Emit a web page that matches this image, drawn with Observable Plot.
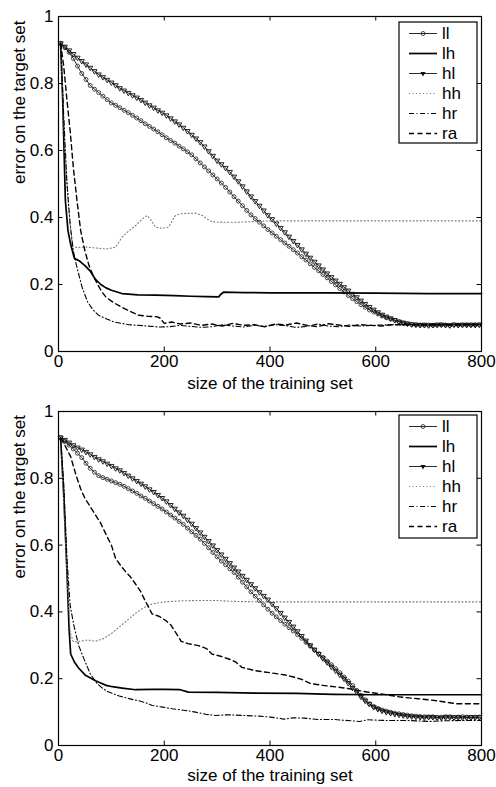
<!DOCTYPE html>
<html><head><meta charset="utf-8">
<script src="https://cdn.jsdelivr.net/npm/d3@7"></script>
<script src="https://cdn.jsdelivr.net/npm/@observablehq/plot@0.6"></script>
<style>
body{margin:0;background:#fff;}
#wrap{position:relative;width:496px;height:787px;font-family:"Liberation Sans",Arial,sans-serif;}
#wrap svg{display:block}
.legend{position:absolute}
</style></head><body><div id="wrap"></div>
<script>
const xTicks = [0, 200, 400, 600, 800];
const yTicks = [0, 0.2, 0.4, 0.6, 0.8, 1];
const seriesNames = ["ll", "lh", "hl", "hh", "hr", "ra"];
const xAxisTitle = "size of the training set";
const yAxisTitle = "error on the target set";
// sample sizes of the marker series (ll, hl)
const markerX = d3.range(4, 800, 8);

// ---------- top panel ----------
const llTop = [0.920,0.907,0.893,0.875,0.852,0.830,0.812,0.794,0.783,0.773,0.762,0.752,0.742,0.735,0.728,0.720,0.713,0.705,0.697,0.689,
0.680,0.672,0.664,0.656,0.647,0.638,0.630,0.622,0.613,0.605,0.596,0.587,0.575,0.563,0.551,0.539,0.527,0.515,0.503,0.490,
0.476,0.462,0.449,0.435,0.421,0.408,0.397,0.386,0.375,0.364,0.354,0.344,0.334,0.324,0.314,0.304,0.294,0.283,0.273,0.262,
0.251,0.241,0.230,0.220,0.209,0.199,0.188,0.178,0.167,0.158,0.149,0.140,0.132,0.124,0.118,0.112,0.106,0.101,0.097,0.093,
0.089,0.085,0.083,0.081,0.080,0.079,0.078,0.079,0.078,0.079,0.080,0.079,0.078,0.080,0.079,0.079,0.080,0.079,0.080,0.080];
const hlTop = [0.920,0.910,0.899,0.888,0.877,0.867,0.857,0.847,0.837,0.827,0.819,0.811,0.803,0.795,0.786,0.779,0.772,0.765,0.758,0.751,
0.743,0.735,0.728,0.720,0.713,0.705,0.696,0.687,0.678,0.668,0.658,0.647,0.636,0.625,0.612,0.598,0.584,0.570,0.559,0.548,
0.536,0.522,0.508,0.493,0.478,0.463,0.449,0.435,0.421,0.407,0.395,0.382,0.369,0.356,0.343,0.330,0.318,0.305,0.292,0.280,
0.268,0.257,0.245,0.233,0.222,0.212,0.202,0.192,0.182,0.172,0.162,0.152,0.142,0.133,0.125,0.117,0.110,0.104,0.099,0.094,
0.089,0.086,0.083,0.081,0.080,0.079,0.080,0.078,0.079,0.080,0.080,0.079,0.078,0.080,0.079,0.080,0.079,0.080,0.079,0.080];
const lhTopX = [4,8,13,18,23,30,40,51,60,70,80,90,100,120,150,183,220,250,280,303,307,312,350,400,500,600,700,800];
const lhTopY = [0.92,0.75,0.45,0.36,0.32,0.278,0.27,0.255,0.24,0.215,0.2,0.19,0.183,0.173,0.169,0.168,0.167,0.165,0.164,0.163,0.171,0.177,0.176,0.175,0.175,0.174,0.173,0.173];
const hhTopX = [4,12,20,26,35,50,70,90,108,120,133,146,158,168,176,183,195,208,215,221,235,259,272,281,290,310,340,372,400,500,600,700,800];
const hhTopY = [0.92,0.6,0.42,0.315,0.31,0.312,0.309,0.306,0.311,0.341,0.36,0.376,0.395,0.406,0.39,0.371,0.368,0.371,0.39,0.406,0.412,0.413,0.406,0.396,0.387,0.386,0.386,0.388,0.39,0.39,0.39,0.39,0.39];
const hrTopX = [4,10,16,22,28,35,45,55,65,76,90,105,133,160,190,210,230,250,270,290,310,330,350,370,390,410,430,450,470,490,510,530,550,570,590,610,630,660,700,750,800];
const hrTopY = [0.92,0.70,0.50,0.38,0.30,0.25,0.19,0.148,0.125,0.108,0.098,0.088,0.080,0.077,0.073,0.074,0.078,0.075,0.072,0.074,0.080,0.076,0.073,0.078,0.075,0.080,0.077,0.072,0.075,0.082,0.076,0.074,0.079,0.076,0.078,0.079,0.080,0.080,0.079,0.080,0.080];
const raTopX = [4,10,16,22,28,35,42,50,58,66,74,82,90,105,120,135,152,170,185,192,200,214,230,250,270,290,310,330,350,370,390,410,430,450,470,490,510,530,550,570,590,610,630,660,700,800];
const raTopY = [0.92,0.85,0.75,0.66,0.55,0.45,0.36,0.30,0.255,0.225,0.20,0.178,0.162,0.145,0.132,0.12,0.108,0.105,0.104,0.100,0.084,0.088,0.082,0.085,0.078,0.082,0.076,0.084,0.078,0.080,0.074,0.082,0.079,0.085,0.078,0.074,0.083,0.079,0.075,0.080,0.078,0.076,0.080,0.080,0.080,0.080];

// ---------- bottom panel ----------
const llBot = [0.922,0.910,0.899,0.888,0.875,0.862,0.845,0.830,0.818,0.808,0.802,0.797,0.792,0.787,0.782,0.776,0.769,0.762,0.755,0.747,
0.740,0.732,0.724,0.716,0.708,0.699,0.690,0.681,0.671,0.662,0.651,0.640,0.629,0.618,0.605,0.592,0.578,0.565,0.552,0.541,
0.529,0.518,0.504,0.489,0.475,0.460,0.447,0.434,0.421,0.408,0.396,0.385,0.374,0.363,0.353,0.343,0.332,0.321,0.309,0.298,
0.286,0.275,0.264,0.253,0.242,0.230,0.218,0.205,0.193,0.180,0.165,0.150,0.137,0.125,0.117,0.111,0.106,0.103,0.100,0.097,
0.095,0.093,0.091,0.089,0.088,0.087,0.086,0.085,0.086,0.084,0.085,0.086,0.085,0.084,0.085,0.086,0.085,0.084,0.085,0.085];
const hlBot = [0.922,0.915,0.907,0.899,0.892,0.886,0.879,0.872,0.864,0.857,0.851,0.844,0.837,0.830,0.824,0.816,0.808,0.800,0.792,0.784,
0.776,0.767,0.759,0.750,0.741,0.731,0.720,0.709,0.698,0.688,0.676,0.664,0.651,0.638,0.625,0.612,0.599,0.585,0.572,0.559,
0.546,0.533,0.521,0.508,0.496,0.483,0.471,0.459,0.448,0.437,0.424,0.411,0.397,0.383,0.370,0.356,0.342,0.328,0.314,0.300,
0.287,0.274,0.261,0.249,0.236,0.224,0.212,0.200,0.187,0.173,0.160,0.146,0.134,0.124,0.115,0.109,0.104,0.100,0.097,0.094,
0.092,0.090,0.088,0.087,0.086,0.085,0.084,0.086,0.085,0.084,0.083,0.085,0.086,0.084,0.085,0.083,0.084,0.085,0.084,0.085];
const lhBotX = [4,10,16,20,23,30,38,51,70,83,90,102,120,146,177,200,230,246,300,372,450,520,600,700,800];
const lhBotY = [0.92,0.75,0.52,0.35,0.274,0.25,0.232,0.21,0.194,0.185,0.18,0.176,0.172,0.167,0.168,0.168,0.167,0.16,0.159,0.157,0.156,0.153,0.152,0.152,0.152];
const hhBotX = [4,10,16,22,28,40,55,70,85,100,115,130,145,160,177,200,230,260,300,340,400,500,600,700,800];
const hhBotY = [0.92,0.72,0.52,0.34,0.31,0.312,0.316,0.312,0.32,0.335,0.355,0.375,0.395,0.412,0.424,0.43,0.433,0.434,0.434,0.431,0.43,0.43,0.43,0.43,0.43];
const hrBotX = [4,10,16,22,29,38,48,60,73,83,92,102,115,127,142,152,165,177,197,215,240,259,280,297,320,347,380,401,426,445,464,490,521,552,570,584,620,660,700,730,770,800];
const hrBotY = [0.92,0.78,0.56,0.42,0.36,0.30,0.26,0.215,0.185,0.172,0.162,0.156,0.148,0.143,0.137,0.134,0.128,0.12,0.115,0.11,0.105,0.10,0.093,0.09,0.092,0.09,0.088,0.085,0.079,0.083,0.082,0.078,0.078,0.074,0.072,0.077,0.075,0.075,0.072,0.074,0.075,0.075];
const raBotX = [4,10,23,33,42,50,60,70,79,92,100,108,117,127,136,145,155,165,177,190,203,212,221,232,245,265,280,290,305,322,335,347,372,400,426,445,460,476,500,527,550,584,620,647,680,716,740,753,800];
const raBotY = [0.92,0.905,0.865,0.81,0.768,0.74,0.715,0.69,0.668,0.625,0.60,0.56,0.54,0.52,0.505,0.485,0.462,0.43,0.394,0.387,0.374,0.362,0.34,0.312,0.305,0.299,0.29,0.274,0.268,0.259,0.25,0.234,0.224,0.218,0.212,0.205,0.198,0.186,0.18,0.175,0.17,0.16,0.152,0.145,0.14,0.134,0.128,0.125,0.125];

const rows = (xs, ys) => xs.map((x, i) => ({x, y: ys[i]}));

// downward-pointing triangle marker
const triDown = {
  draw(ctx, size) {
    const a = Math.sqrt(size * 4 / Math.sqrt(3)) * 0.8;
    const h = a * Math.sqrt(3) / 2;
    ctx.moveTo(0, h * 2 / 3);
    ctx.lineTo(a / 2, -h / 3);
    ctx.lineTo(-a / 2, -h / 3);
    ctx.closePath();
  }
};

const styles = {
  ll: {stroke: "#111", strokeWidth: 0.9},
  lh: {stroke: "#000", strokeWidth: 1.7},
  hl: {stroke: "#111", strokeWidth: 0.9},
  hh: {stroke: "#777", strokeWidth: 1.1, strokeDasharray: "1,2.5"},
  hr: {stroke: "#000", strokeWidth: 1.1, strokeDasharray: "5,2.5,1,2.5"},
  ra: {stroke: "#000", strokeWidth: 1.4, strokeDasharray: "5,3.5"}
};

function panel(S, {height, mt, mb}) {
  const W = 496, ml = 58, mr = 15;
  const innerW = W - ml - mr, innerH = height - mt - mb;
  const tx = 4.5 / innerW * 800, ty = 4.5 / innerH;
  const ll = rows(markerX, S.ll), hl = rows(markerX, S.hl);
  return Plot.plot({
    width: W, height, marginTop: mt, marginBottom: mb, marginLeft: ml, marginRight: mr,
    style: {fontFamily: '"Liberation Sans", Arial, sans-serif', fontSize: "17px", color: "#000", background: "#fff", overflow: "visible"},
    x: {domain: [0, 800]},
    y: {domain: [0, 1]},
    marks: [
      Plot.line(ll, {x: "x", y: "y", ...styles.ll}),
      Plot.dot(ll, {x: "x", y: "y", r: 2, stroke: "#333", strokeWidth: 0.9, fill: "none"}),
      Plot.line(rows(S.lhX, S.lhY), {x: "x", y: "y", ...styles.lh}),
      Plot.line(hl, {x: "x", y: "y", ...styles.hl}),
      Plot.dot(hl, {x: "x", y: "y", r: 2.4, symbol: triDown, stroke: "#111", strokeWidth: 0.9, fill: "none"}),
      Plot.line(rows(S.hhX, S.hhY), {x: "x", y: "y", ...styles.hh}),
      Plot.line(rows(S.hrX, S.hrY), {x: "x", y: "y", ...styles.hr}),
      Plot.line(rows(S.raX, S.raY), {x: "x", y: "y", ...styles.ra}),
      // inward ticks on all four sides
      Plot.ruleX(xTicks, {x: d => d, y1: 0, y2: ty, stroke: "#000"}),
      Plot.ruleX(xTicks, {x: d => d, y1: 1 - ty, y2: 1, stroke: "#000"}),
      Plot.ruleY(yTicks, {y: d => d, x1: 0, x2: tx, stroke: "#000"}),
      Plot.ruleY(yTicks, {y: d => d, x1: 800 - tx, x2: 800, stroke: "#000"}),
      Plot.frame({stroke: "#000", strokeWidth: 1.2}),
      Plot.axisX(xTicks, {tickSize: 0, tickPadding: 3, fontSize: 17, label: null, tickFormat: d => String(d)}),
      Plot.axisY(yTicks, {tickSize: 0, tickPadding: 5, fontSize: 17, label: null, tickFormat: d => String(d)}),
      Plot.text([xAxisTitle], {frameAnchor: "bottom", lineAnchor: "middle", text: d => d, dy: S.xTitleDy, fontSize: 17}),
      Plot.text([yAxisTitle], {frameAnchor: "left", lineAnchor: "middle", text: d => d, rotate: -90, dx: -39, fontSize: 17})
    ]
  });
}

function legend(left, top, h) {
  const w = 78;
  const svg = d3.create("svg").attr("class", "legend").attr("width", w + 2).attr("height", h + 2)
    .style("left", (left - 1) + "px").style("top", (top - 1) + "px");
  const g = svg.append("g").attr("transform", "translate(1,1)");
  g.append("rect").attr("width", w).attr("height", h).attr("fill", "#fff").attr("stroke", "#000").attr("stroke-width", 1.2);
  seriesNames.forEach((name, i) => {
    const y = 11.5 + 20 * i;
    const st = styles[name];
    g.append("line").attr("x1", 10).attr("x2", 38).attr("y1", y).attr("y2", y)
      .attr("stroke", st.stroke).attr("stroke-width", st.strokeWidth)
      .attr("stroke-dasharray", st.strokeDasharray || null);
    if (name === "ll") g.append("circle").attr("cx", 24).attr("cy", y).attr("r", 2).attr("fill", "none").attr("stroke", "#333").attr("stroke-width", 0.9);
    if (name === "hl") g.append("path").attr("transform", `translate(24,${y})`).attr("d", d3.symbol(triDown, 2.4 * 2.4 * Math.PI)()).attr("fill", "#111");
    g.append("text").attr("x", 43).attr("y", y).attr("dy", "0.35em").attr("font-size", 17)
      .attr("font-family", '"Liberation Sans", Arial, sans-serif').text(name);
  });
  return svg.node();
}

const wrap = document.getElementById("wrap");
wrap.append(panel({ll: llTop, hl: hlTop, lhX: lhTopX, lhY: lhTopY, hhX: hhTopX, hhY: hhTopY, hrX: hrTopX, hrY: hrTopY, raX: raTopX, raY: raTopY, xTitleDy: 32},
  {height: 390, mt: 16, mb: 39}));
wrap.append(panel({ll: llBot, hl: hlBot, lhX: lhBotX, lhY: lhBotY, hhX: hhBotX, hhY: hhBotY, hrX: hrBotX, hrY: hrBotY, raX: raBotX, raY: raBotY, xTitleDy: 30},
  {height: 397, mt: 21, mb: 42}));
wrap.append(legend(399, 22, 121));
wrap.append(legend(399, 415, 123));
</script></body></html>
